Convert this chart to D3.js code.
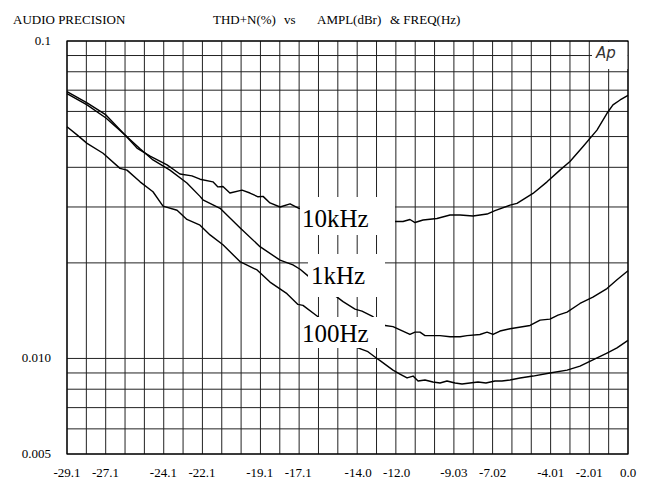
<!DOCTYPE html>
<html lang="en">
<head>
<meta charset="UTF-8">
<title>THD+N(%) vs AMPL(dBr) & FREQ(Hz)</title>
<script src="https://cdn.jsdelivr.net/npm/d3@7"></script>
<style>
  body { margin: 0; background: #fff; }
  svg { display: block; font-family: "Liberation Serif", "Times New Roman", serif; }
</style>
</head>
<body>
<div id="chart"></div>
<script>
// amplitude (dBr) and THD+N (%), one pair of arrays per frequency
const amp10k = [-29.10,-28.06,-27.08,-26.09,-25.47,-24.79,-23.91,-23.24,-22.62,-22.20,-21.53,-21.27,-21.01,-20.65,-20.02,-19.61,-19.19,-18.93,-18.57,-18.05,-17.53,-17.07,-12.14,-11.67,-11.31,-11.05,-10.63,-9.91,-9.23,-8.71,-8.04,-7.31,-6.90,-6.12,-5.76,-4.93,-4.20,-3.53,-3.01,-2.33,-1.61,-1.09,-0.78,-0.41,0];
const thd10k = [0.0683,0.0629,0.0572,0.0506,0.0460,0.0434,0.0407,0.0381,0.0376,0.0367,0.0360,0.0347,0.0348,0.0332,0.0339,0.0332,0.0323,0.0324,0.0309,0.0300,0.0307,0.0297,0.0270,0.0270,0.0274,0.0268,0.0273,0.0276,0.0283,0.0283,0.0281,0.0285,0.0292,0.0304,0.0308,0.0331,0.0360,0.0392,0.0417,0.0465,0.0524,0.0592,0.0629,0.0652,0.0674];

const amp1k = [-29.10,-28.06,-27.08,-26.09,-25.31,-24.64,-23.76,-22.88,-22.20,-22.05,-21.16,-20.13,-19.09,-18.05,-17.38,-17.01,-16.60,-15.09,-14.78,-14.16,-13.80,-13.28,-12.60,-12.19,-11.31,-11.05,-10.79,-10.53,-9.75,-9.23,-8.71,-8.35,-7.68,-7.31,-7.00,-6.64,-6.12,-5.08,-4.56,-4.05,-3.63,-3.16,-2.49,-1.82,-1.09,-0.57,0];
const thd1k = [0.0693,0.0638,0.0585,0.0506,0.0458,0.0422,0.0392,0.0357,0.0324,0.0316,0.0297,0.0258,0.0225,0.0204,0.0197,0.0191,0.0182,0.0156,0.0151,0.0143,0.0141,0.0136,0.0127,0.0126,0.0119,0.0121,0.0121,0.0118,0.0118,0.0117,0.0117,0.0118,0.0119,0.0121,0.0119,0.0122,0.0124,0.0127,0.0132,0.0133,0.0137,0.0140,0.0149,0.0156,0.0166,0.0177,0.0189];

const amp100 = [-29.10,-28.58,-28.06,-27.23,-26.35,-25.99,-25.31,-24.64,-24.12,-23.39,-22.88,-22.20,-21.68,-21.01,-20.13,-19.24,-18.57,-17.69,-17.12,-16.86,-16.13,-14.01,-13.49,-13.02,-12.86,-12.19,-11.83,-11.46,-11.15,-10.89,-10.53,-10.12,-9.75,-9.39,-8.97,-8.61,-8.20,-7.78,-7.37,-6.90,-6.54,-6.12,-5.60,-4.93,-4.05,-3.16,-2.49,-1.82,-1.09,-0.57,0];
const thd100 = [0.0537,0.0506,0.0476,0.0443,0.0397,0.0392,0.0360,0.0335,0.0302,0.0293,0.0274,0.0263,0.0245,0.0228,0.0202,0.0190,0.0174,0.0160,0.0148,0.0147,0.0136,0.0108,0.0105,0.0100,0.00984,0.00919,0.00893,0.00868,0.00880,0.00849,0.00855,0.00843,0.00837,0.00849,0.00837,0.00831,0.00837,0.00843,0.00837,0.00849,0.00849,0.00855,0.00868,0.00880,0.00900,0.00919,0.00946,0.00989,0.0104,0.0108,0.0114];

const xTickLabels = ["-29.1","-27.1","-24.1","-22.1","-19.1","-17.1","-14.0","-12.0","-9.03","-7.02","-4.01","-2.01","0.0"];
const yTickLabels = ["0.1","0.010","0.005"];
const yGrid = [0.1,0.09,0.08,0.07,0.06,0.05,0.04,0.03,0.02,0.01,0.009,0.008,0.007,0.006,0.005];
const xDivisions = 29;

const width = 646, height = 481;
const plot = {left: 67, top: 41, right: 628, bottom: 454};

const x = d3.scaleLinear().domain([-29.1, 0]).range([plot.left, plot.right]);
const y = d3.scaleLog().domain([0.005, 0.1]).range([plot.bottom, plot.top]);

const svg = d3.select("#chart").append("svg")
    .attr("width", width)
    .attr("height", height)
    .attr("viewBox", [0, 0, width, height]);

svg.append("rect").attr("width", width).attr("height", height).attr("fill", "#fff");

// header
const head = svg.append("g").attr("font-size", 13).attr("fill", "#000");
head.append("text").attr("x", 13).attr("y", 24).text("AUDIO PRECISION");
head.append("text").attr("x", 213).attr("y", 24).text("THD+N(%)");
head.append("text").attr("x", 284).attr("y", 24).text("vs");
head.append("text").attr("x", 317).attr("y", 24).text("AMPL(dBr)");
head.append("text").attr("x", 390).attr("y", 24).text("& FREQ(Hz)");

// grid
const xGrid = d3.range(xDivisions + 1).map(i => x.domain()[0] + i * (x.domain()[1] - x.domain()[0]) / xDivisions);
const grid = svg.append("g").attr("stroke", "#222").attr("stroke-width", 1);
grid.selectAll("line.v").data(xGrid).join("line")
    .attr("class", "v")
    .attr("x1", d => x(d)).attr("x2", d => x(d))
    .attr("y1", plot.top).attr("y2", plot.bottom);
grid.selectAll("line.h").data(yGrid).join("line")
    .attr("class", "h")
    .attr("x1", plot.left).attr("x2", plot.right)
    .attr("y1", d => y(d)).attr("y2", d => y(d));

svg.append("rect")
    .attr("x", plot.left).attr("y", plot.top)
    .attr("width", plot.right - plot.left).attr("height", plot.bottom - plot.top)
    .attr("fill", "none").attr("stroke", "#000").attr("stroke-width", 1.2);

// axis labels
svg.append("g").attr("font-size", 13).attr("text-anchor", "middle")
  .selectAll("text").data(xTickLabels).join("text")
    .attr("x", d => x(+d))
    .attr("y", 477)
    .text(d => d);

svg.append("g").attr("font-size", 13).attr("text-anchor", "end")
  .selectAll("text").data(yTickLabels).join("text")
    .attr("x", 51)
    .attr("y", d => y(+d) + 4)
    .text(d => d);

// curves
const line = d3.line().x(d => x(d[0])).y(d => y(d[1]));
const series = [
    d3.zip(amp10k, thd10k),
    d3.zip(amp1k, thd1k),
    d3.zip(amp100, thd100)
];
svg.append("g").attr("fill", "none").attr("stroke", "#000").attr("stroke-width", 1.4)
    .attr("stroke-linejoin", "round")
  .selectAll("path").data(series).join("path")
    .attr("d", line);

// curve labels sit on white patches that cut the grid and curves
const tags = [
    {text: "10kHz", box: [300, 197, 395, 235], tx: 302, ty: 227},
    {text: "1kHz",  box: [308, 254, 385, 297], tx: 311, ty: 284},
    {text: "100Hz", box: [300, 317, 385, 348], tx: 302, ty: 342}
];
const tag = svg.append("g").selectAll("g").data(tags).join("g");
tag.append("rect")
    .attr("x", d => d.box[0]).attr("y", d => d.box[1])
    .attr("width", d => d.box[2] - d.box[0]).attr("height", d => d.box[3] - d.box[1])
    .attr("fill", "#fff");
tag.append("text")
    .attr("x", d => d.tx).attr("y", d => d.ty)
    .attr("font-size", 25)
    .text(d => d.text);

// Ap logo in the top right cell
svg.append("rect").attr("x", 592).attr("y", plot.top + 1).attr("width", plot.right - 592 - 0.6).attr("height", 27).attr("fill", "#fff");
svg.append("text")
    .attr("x", 596).attr("y", 58)
    .attr("font-family", "'DejaVu Sans', 'Liberation Sans', sans-serif")
    .attr("font-style", "italic")
    .attr("font-size", 15)
    .attr("fill", "#333")
    .text("Ap");
</script>
</body>
</html>
